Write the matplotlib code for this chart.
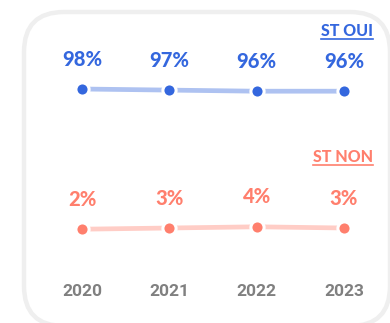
import matplotlib
matplotlib.use("Agg")
import matplotlib.pyplot as plt
from matplotlib.patches import FancyBboxPatch
from matplotlib.lines import Line2D
from matplotlib.transforms import IdentityTransform

years = [2020, 2021, 2022, 2023]
st_oui = [98, 97, 96, 96]
st_non = [2, 3, 4, 3]
series_names = ["ST OUI", "ST NON"]

BLUE = "#3467de"
BLUE_LINE = "#aec2f1"
RED = "#ff7f6d"
RED_LINE = "#ffcdc6"
GRAY = "#808080"

W, H = 390, 323
fig = plt.figure(figsize=(W / 100, H / 100), dpi=100)
fig.patch.set_facecolor("white")

# rounded card outline (pixel coordinates)
card = FancyBboxPatch((24, -3), 366, 314,
                      boxstyle="round,pad=0,rounding_size=40",
                      transform=IdentityTransform(), facecolor="none",
                      edgecolor="#efefef", linewidth=3.2, zorder=-5)
fig.add_artist(card)

px_per_year = 87.33
xlo = 2020 - 82 / px_per_year
xhi = xlo + W / px_per_year


def make_axes(anchor_val, anchor_px, scale):
    ax = fig.add_axes([0, 0, 1, 1])
    ax.set_xlim(xlo, xhi)
    yhi = anchor_val + anchor_px / scale
    ax.set_ylim(yhi - H / scale, yhi)
    ax.axis("off")
    ax.patch.set_alpha(0)
    return ax


ax_top = make_axes(98, 89, 1.1)
ax_bot = make_axes(3, 228, 1.2)

font_pct = dict(family="Lato", weight="black", fontsize=14.5)

for ax, vals, dot_c, line_c in [(ax_top, st_oui, BLUE, BLUE_LINE),
                                (ax_bot, st_non, RED, RED_LINE)]:
    ax.plot(years, vals, color=line_c, lw=3.4, solid_capstyle="butt", zorder=2)
    ax.plot(years, vals, "o", ms=9.5, mfc=dot_c, mec="white", mew=2.2, zorder=3)
    for x, v in zip(years, vals):
        ax.annotate(f"{v}%", (x, v), xytext=(0, 21.5), textcoords="offset points",
                    ha="center", va="center", color=dot_c, **font_pct)

# year labels
for x in years:
    ax_bot.text(x, (H - 291) / H, str(x), transform=ax_bot.get_xaxis_transform(),
                ha="center", va="center", color=GRAY, family="Roboto",
                weight="bold", fontsize=12.5)

# underlined series names
legend_texts = []
for name, ypx, c in [(series_names[0], 31, BLUE), (series_names[1], 157, RED)]:
    t = fig.text(373 / W, 1 - ypx / H, name, ha="right", va="center", color=c,
                 family="Lato", weight="black", fontsize=11.5)
    legend_texts.append((t, c))

fig.canvas.draw()
renderer = fig.canvas.get_renderer()
for t, c in legend_texts:
    bb = t.get_window_extent(renderer)
    yline = bb.y0 + 0.5
    fig.add_artist(Line2D([bb.x0 / W, bb.x1 / W], [yline / H, yline / H],
                          transform=fig.transFigure, color=c, lw=1.2))

fig.savefig("out.png", dpi=100, facecolor="white")
